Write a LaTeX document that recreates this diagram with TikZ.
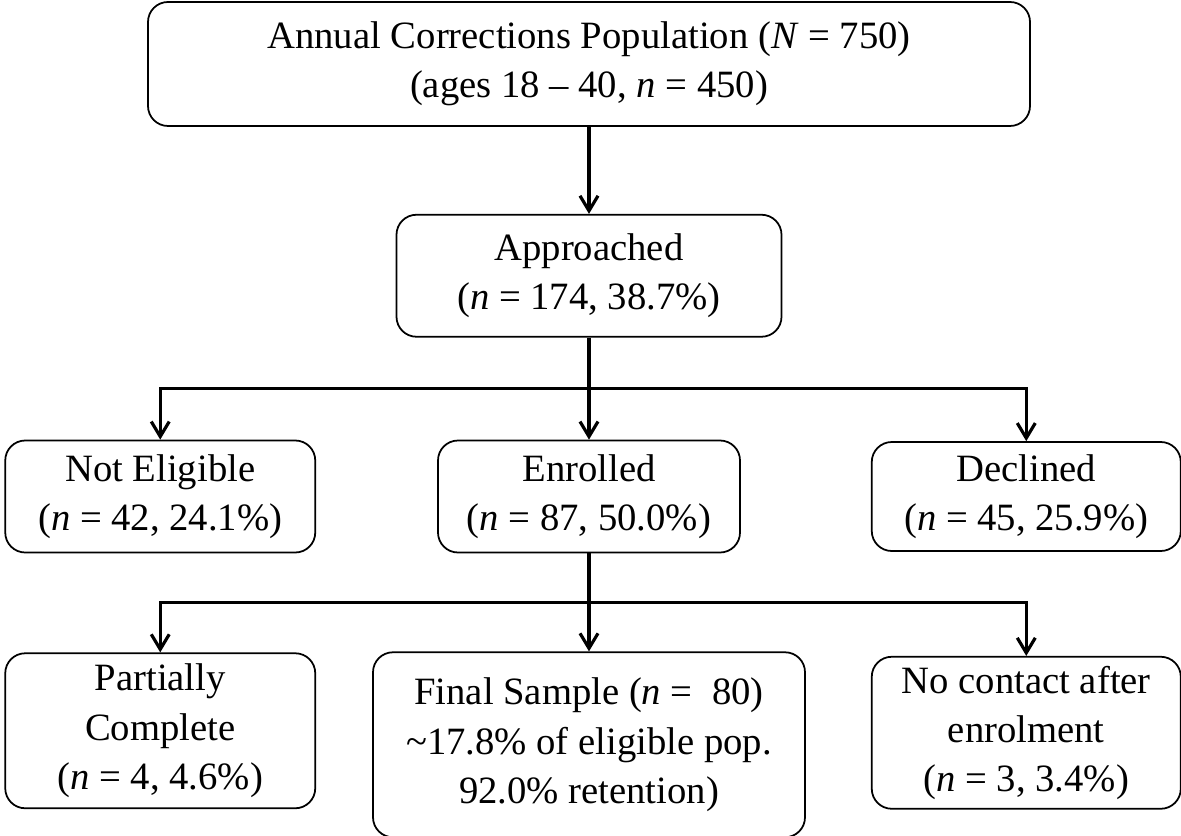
\documentclass[tikz,border=0pt]{standalone}
\usepackage{fontspec}
\setmainfont{Liberation Serif}
\usepackage{tikz}
\usetikzlibrary{arrows.meta, positioning, calc}

\begin{document}
\begin{tikzpicture}[
      box/.style={rectangle, draw, line width=1pt, rounded corners=0.4cm, align=center, inner sep=2pt, font=\fontsize{22}{28}\selectfont},
      arrow/.style={-{Straight Barb[length=0.3cm, width=0.36cm]}, line width=1.8pt},
      line/.style={line width=1.8pt}
    ]
      \useasboundingbox (0,0) rectangle (23.62,16.72);

      % Boxes
      \node[box, minimum width=17.64cm, minimum height=2.48cm] (pop) at (11.78,15.44) {Annual Corrections Population (\textit{N} = 750)\\(ages 18 -- 40, \textit{n} = 450)};
      \node[box, minimum width=7.7cm, minimum height=2.44cm, below=1.74cm of pop] (appr) {Approached\\(\textit{n} = 174, 38.7\%)};
      \node[box, minimum width=6.04cm, minimum height=2.24cm, below=2.04cm of appr] (enrol) {Enrolled\\(\textit{n} = 87, 50.0\%)};
      \node[box, minimum width=6.2cm, minimum height=2.24cm, left=2.42cm of enrol] (noelig) {Not Eligible\\(\textit{n} = 42, 24.1\%)};
      \node[box, minimum width=6.18cm, minimum height=2.18cm, right=2.6cm of enrol] (declined) {Declined\\(\textit{n} = 45, 25.9\%)};

      \node[box, minimum width=8.64cm, minimum height=3.7cm, below=1.96cm of enrol] (final) {Final Sample (\textit{n} =~ 80)\\\textasciitilde17.8\% of eligible pop.\\92.0\% retention)};
      \node[box, minimum width=6.2cm, minimum height=3.1cm, below=1.98cm of noelig] (partial) {Partially\\Complete\\(\textit{n} = 4, 4.6\%)};
      \node[box, minimum width=6.18cm, minimum height=3.04cm, below=2.08cm of declined] (nocontact) {No contact after\\enrolment\\(\textit{n} = 3, 3.4\%)};

      % Forks
      \coordinate (fork1) at ($(appr.south)!0.5!(appr.south |- enrol.north)$);
      \coordinate (fork2) at ($(enrol.south)!0.5!(enrol.south |- final.north)$);

      % Arrows
      \draw[arrow] (pop) -- (appr);

      \draw[line] (appr.south) -- (fork1);
      \draw[arrow] (fork1) -| (noelig.north);
      \draw[arrow] (fork1) -- (fork1 |- enrol.north);
      \draw[arrow] (fork1) -| (declined.north);

      \draw[line] (enrol.south) -- (fork2);
      \draw[arrow] (fork2) -| (partial.north);
      \draw[arrow] (fork2) -- (fork2 |- final.north);
      \draw[arrow] (fork2) -| (nocontact.north);

    \end{tikzpicture}
\end{document}
